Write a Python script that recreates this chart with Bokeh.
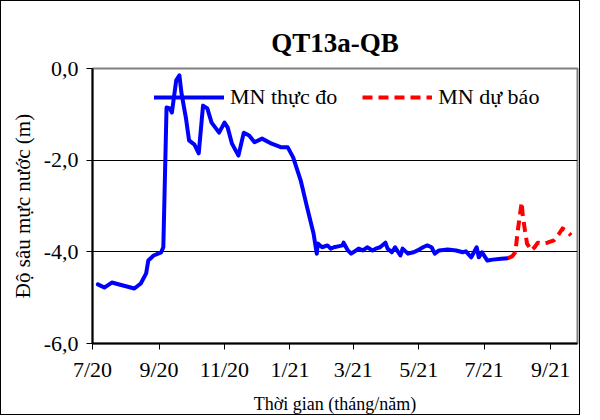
import pandas as pd
from bokeh.plotting import figure
from bokeh.models import FixedTicker, Range1d, Legend, LegendItem
from bokeh.embed import file_html
from bokeh.resources import INLINE

# ---- data ----
measured_dates = [
    "2020-07-06", "2020-07-12", "2020-07-19", "2020-08-09", "2020-08-15", "2020-08-20",
    "2020-08-22", "2020-08-27", "2020-09-03", "2020-09-05", "2020-09-08", "2020-09-11",
    "2020-09-13", "2020-09-17", "2020-09-20", "2020-09-22", "2020-09-26", "2020-09-29",
    "2020-10-04", "2020-10-08", "2020-10-12", "2020-10-16", "2020-10-20", "2020-10-27",
    "2020-11-01", "2020-11-04", "2020-11-08", "2020-11-14", "2020-11-19", "2020-11-24",
    "2020-11-29", "2020-12-06", "2020-12-15", "2020-12-24", "2020-12-30", "2021-01-04",
    "2021-01-11", "2021-01-17", "2021-01-23", "2021-01-26", "2021-01-27", "2021-01-31",
    "2021-02-05", "2021-02-08", "2021-02-11", "2021-02-15", "2021-02-19", "2021-02-20",
    "2021-02-24", "2021-02-27", "2021-03-01", "2021-03-06", "2021-03-10", "2021-03-14",
    "2021-03-19", "2021-03-22", "2021-03-26", "2021-03-31", "2021-04-02", "2021-04-06",
    "2021-04-09", "2021-04-14", "2021-04-16", "2021-04-21", "2021-04-26", "2021-04-30",
    "2021-05-05", "2021-05-09", "2021-05-13", "2021-05-16", "2021-05-20", "2021-05-28",
    "2021-06-05", "2021-06-11", "2021-06-14", "2021-06-19", "2021-06-24", "2021-06-26",
    "2021-06-29", "2021-07-04", "2021-07-09", "2021-07-17", "2021-07-23",
]
measured_values = [
    -4.71, -4.78, -4.67, -4.80, -4.69, -4.47,
    -4.19, -4.08, -4.01, -3.90, -0.85, -0.87,
    -0.96, -0.26, -0.15, -0.55, -1.07, -1.57,
    -1.66, -1.85, -0.81, -0.87, -1.18, -1.40,
    -1.18, -1.29, -1.64, -1.90, -1.40, -1.46,
    -1.61, -1.53, -1.64, -1.72, -1.72, -1.94,
    -2.44, -3.03, -3.60, -4.04, -3.82, -3.90,
    -3.86, -3.93, -3.90, -3.88, -3.86, -3.80,
    -3.97, -4.04, -4.01, -3.93, -3.97, -3.90,
    -3.97, -3.93, -3.90, -3.80, -3.93, -4.01,
    -3.90, -4.08, -3.93, -4.04, -4.01, -3.97,
    -3.90, -3.86, -3.90, -4.04, -3.97, -3.95,
    -3.97, -4.01, -3.99, -4.12, -3.90, -4.12,
    -4.01, -4.19, -4.17, -4.15, -4.14,
]

forecast_dates = [
    "2021-07-23", "2021-07-27", "2021-07-30", "2021-07-31", "2021-08-01", "2021-08-03",
    "2021-08-05", "2021-08-06", "2021-08-08", "2021-08-10", "2021-08-14", "2021-08-17",
    "2021-08-20", "2021-08-24", "2021-08-29", "2021-09-04", "2021-09-09", "2021-09-12",
    "2021-09-15", "2021-09-20",
]
forecast_values = [
    -4.14, -4.10, -4.01, -3.82, -3.60, -3.25,
    -2.92, -3.21, -3.53, -3.82, -3.97, -3.90,
    -3.80, -3.82, -3.80, -3.75, -3.60, -3.49,
    -3.53, -3.64,
]

tick_dates = ["2020-07-01", "2020-09-01", "2020-11-01", "2021-01-01",
              "2021-03-01", "2021-05-01", "2021-07-01", "2021-09-01"]
tick_labels = ["7/20", "9/20", "11/20", "1/21", "3/21", "5/21", "7/21", "9/21"]
y_ticks = [0, -2, -4, -6]
y_tick_labels = ["0,0", "-2,0", "-4,0", "-6,0"]

title_text = "QT13a-QB"
x_title = "Thời gian (tháng/năm)"
y_title = "Độ sâu mực nước (m)"
legend_labels = ["MN thực đo", "MN dự báo"]

origin = pd.Timestamp("2020-07-01")
axis_end = pd.Timestamp("2021-09-26")


def to_days(ds):
    return [(pd.Timestamp(d) - origin).days for d in ds]


FONT = "Liberation Serif"
x_end = (axis_end - origin).days

p = figure(width=580, height=415, output_backend="svg", toolbar_location=None,
           x_range=Range1d(0, x_end), y_range=Range1d(-6, 0),
           min_border_left=91, min_border_right=4, min_border_top=67, min_border_bottom=73)
p.styles = {"border": "1px solid black"}

p.title.text = title_text
p.title.align = "center"
p.title.offset = 5
p.title.text_font = FONT
p.title.text_font_size = "27px"
p.title.text_font_style = "bold"
p.title.text_color = "black"
p.title.standoff = 22

p.background_fill_color = "white"
p.border_fill_color = "white"
p.outline_line_color = "#808080"
p.outline_line_width = 2

# grid
p.xgrid.visible = False
p.ygrid.grid_line_color = "black"
p.ygrid.grid_line_width = 1
p.ygrid.ticker = FixedTicker(ticks=y_ticks)

# axes
for ax in (p.xaxis[0], p.yaxis[0]):
    ax.axis_line_color = "black"
    ax.axis_line_width = 2
    ax.major_tick_line_color = "black"
    ax.major_tick_line_width = 1
    ax.major_tick_out = 6
    ax.major_tick_in = 0
    ax.minor_tick_line_color = None
    ax.major_label_text_font = FONT
    ax.major_label_text_font_size = "22px"
    ax.major_label_text_color = "black"
    ax.axis_label_text_font = FONT
    ax.axis_label_text_font_style = "normal"
    ax.axis_label_text_color = "black"

xt = to_days(tick_dates)
p.xaxis.ticker = FixedTicker(ticks=xt)
p.xaxis.major_label_overrides = {t: l for t, l in zip(xt, tick_labels)}
p.xaxis.major_label_standoff = 7
p.xaxis.axis_label = x_title
p.xaxis.axis_label_text_font_size = "18px"
p.xaxis.axis_label_standoff = 9

p.yaxis.ticker = FixedTicker(ticks=y_ticks)
p.yaxis.major_label_overrides = {t: l for t, l in zip(y_ticks, y_tick_labels)}
p.yaxis.axis_label = y_title
p.yaxis.axis_label_text_font_size = "21px"
p.yaxis.major_label_standoff = 8
p.yaxis.axis_label_standoff = 6

r1 = p.line(to_days(measured_dates), measured_values, line_color="#0000FF", line_width=4,
            line_join="round", line_cap="round")
r2 = p.line(to_days(forecast_dates), forecast_values, line_color="#FF0000", line_width=4,
            line_dash="10 6", line_join="round")

legend = Legend(items=[LegendItem(label=legend_labels[0], renderers=[r1]),
                       LegendItem(label=legend_labels[1], renderers=[r2])],
                orientation="horizontal", location=(62, 233))
legend.background_fill_alpha = 0
legend.border_line_color = None
legend.label_text_font = FONT
legend.label_text_font_size = "22px"
legend.label_text_color = "black"
legend.glyph_width = 70
legend.glyph_height = 20
legend.label_height = 20
legend.label_standoff = 6
legend.spacing = 25
legend.padding = 0
legend.margin = 0
p.add_layout(legend, "center")

open("out.html", "w").write(file_html(p, INLINE))
